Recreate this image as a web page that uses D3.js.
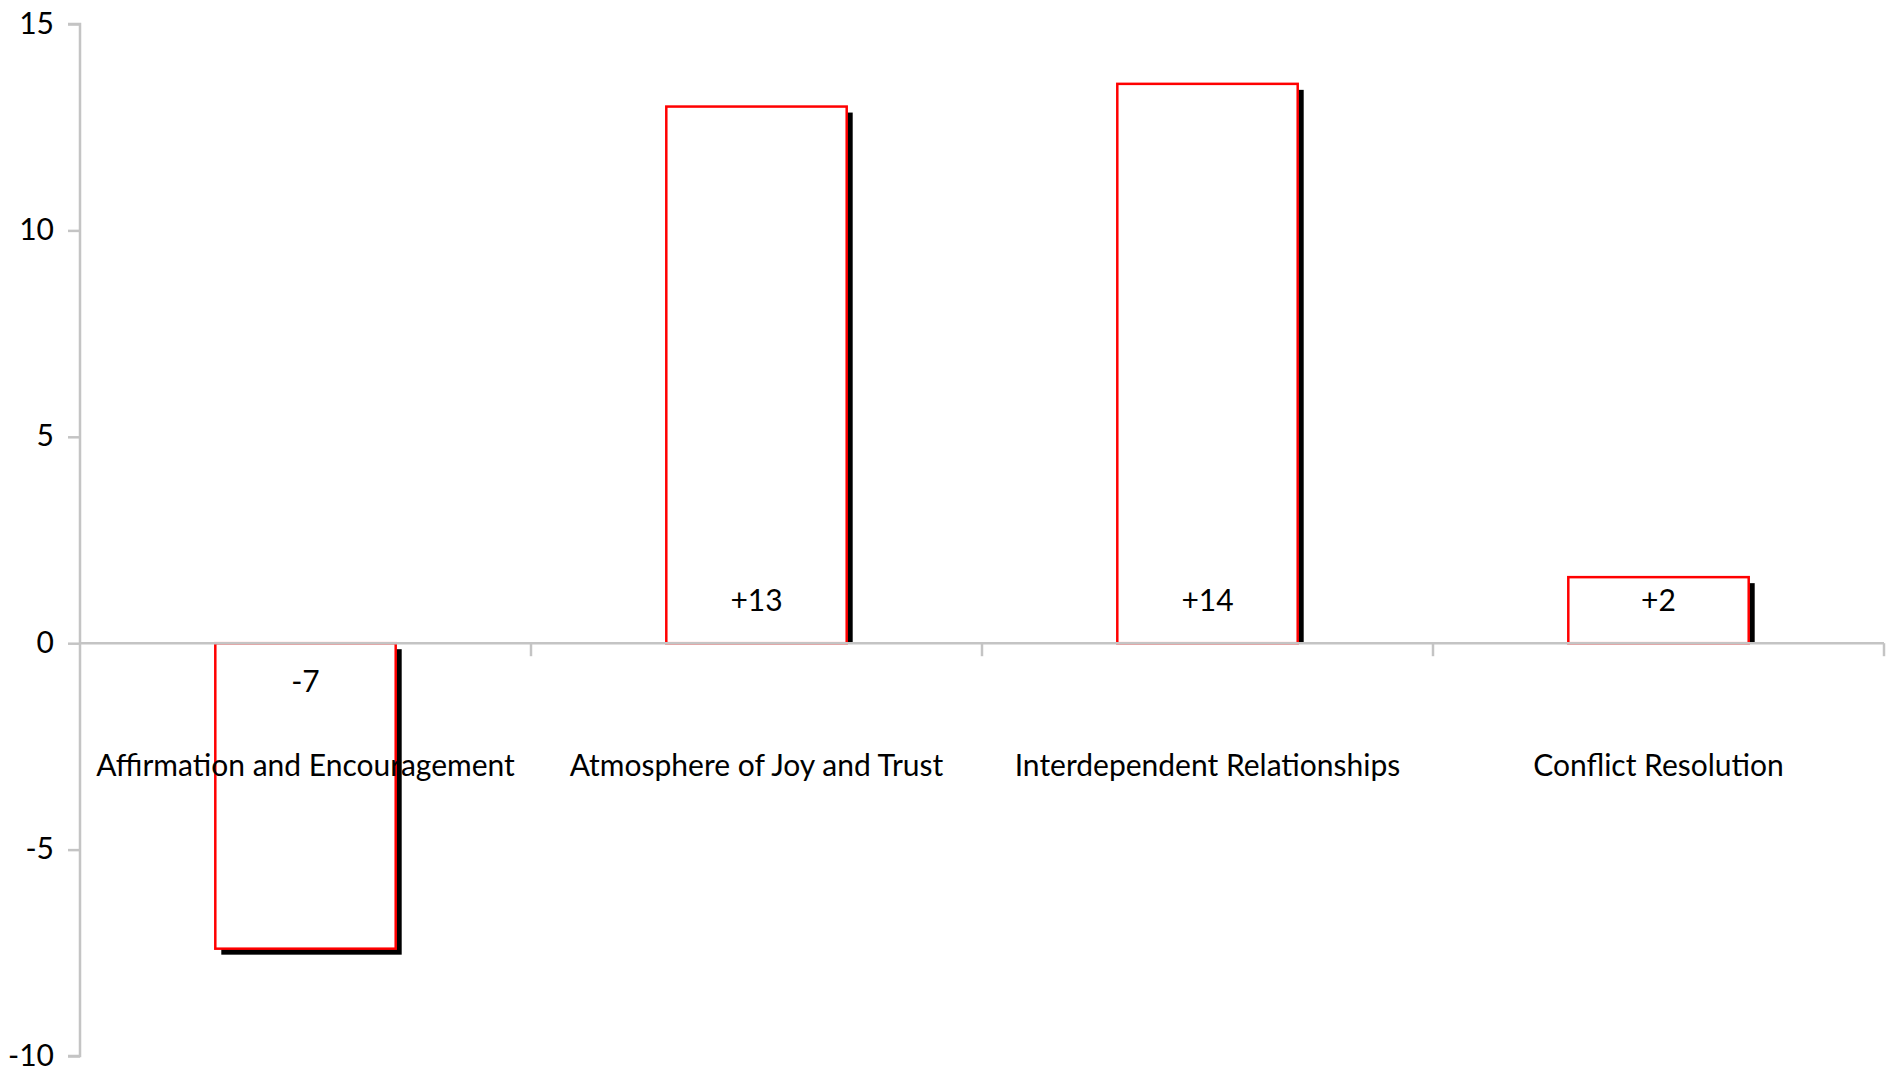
<!DOCTYPE html>
<html>
<head>
<meta charset="utf-8">
<script src="https://cdn.jsdelivr.net/npm/d3@7"></script>
<style>
  html, body { margin: 0; padding: 0; background: #fff; }
  svg { display: block; }
  text { font-family: Lato, "Noto Sans", sans-serif; fill: #000; }
</style>
</head>
<body>
<svg id="chart" width="1895" height="1069"></svg>
<script>
const categories = ["Affirmation and Encouragement", "Atmosphere of Joy and Trust", "Interdependent Relationships", "Conflict Resolution"];
const values = [-7.4, 13.0, 13.55, 1.6];
const valueLabels = ["-7", "+13", "+14", "+2"];
const yTicks = [-10, -5, 0, 5, 10, 15];

(function () {
const svg = d3.select("#chart");
const mLeft = 80, mRight = 1884, mTop = 24, mBottom = 1056;
const fontSize = 30;

const x = d3.scaleBand().domain(categories).range([mLeft, mRight]).paddingInner(0.6).paddingOuter(0.3);
const xOuter = d3.scaleBand().domain(categories).range([mLeft, mRight]);
const y = d3.scaleLinear().domain([-10, 15]).range([mBottom, mTop]);

const axisColor = "#c4c4c4";

// y axis
const yAxis = svg.append("g").attr("transform", `translate(${mLeft},0)`)
  .call(d3.axisLeft(y).tickValues(yTicks).tickSize(12).tickPadding(14).tickFormat(d => String(d)));
yAxis.selectAll("path, line").attr("stroke", axisColor).attr("stroke-width", 2.5);
yAxis.select(".domain").attr("d", `M-12,${y(15)}H0V${y(-10)}H-12`);
yAxis.selectAll("text").attr("font-size", fontSize).attr("fill", "#000").attr("dy", "0.3em")
  .style("font-family", "Lato, 'Noto Sans', sans-serif");

const shadowOff = 6;
const bars = svg.append("g");
categories.forEach((c, i) => {
  const v = values[i];
  const x0 = x(c), w = x.bandwidth();
  const y0 = Math.min(y(0), y(v)), h = Math.abs(y(v) - y(0));
  if (v >= 0) {
    bars.append("rect").attr("x", x0 + shadowOff).attr("y", y(v) + shadowOff)
      .attr("width", w).attr("height", Math.max(0, y(0) - y(v) - shadowOff)).attr("fill", "#000");
  } else {
    bars.append("rect").attr("x", x0 + shadowOff).attr("y", y(0) + shadowOff)
      .attr("width", w).attr("height", h).attr("fill", "#000");
  }
  bars.append("rect").attr("x", x0).attr("y", y0).attr("width", w).attr("height", h)
    .attr("fill", "#fff").attr("stroke", "#ff0000").attr("stroke-width", 2.5);
});

// x axis at zero
const xAxisG = svg.append("g");
xAxisG.append("line").attr("x1", mLeft).attr("x2", mRight).attr("y1", y(0)).attr("y2", y(0))
  .attr("stroke", axisColor).attr("stroke-width", 2.5);
const boundaries = categories.map(c => xOuter(c)).slice(1).concat([mRight]);
xAxisG.selectAll("line.tick").data(boundaries).enter().append("line")
  .attr("x1", d => d).attr("x2", d => d).attr("y1", y(0)).attr("y2", y(0) + 13)
  .attr("stroke", axisColor).attr("stroke-width", 2.5);

// data labels (inside base)
svg.append("g").selectAll("text").data(categories).enter().append("text")
  .attr("x", c => x(c) + x.bandwidth() / 2)
  .attr("y", (c, i) => values[i] >= 0 ? y(0) - 32 : y(0) + 49)
  .attr("text-anchor", "middle").attr("font-size", fontSize)
  .text((c, i) => valueLabels[i]);

// category labels
svg.append("g").selectAll("text").data(categories).enter().append("text")
  .attr("x", c => xOuter(c) + xOuter.bandwidth() / 2)
  .attr("y", y(0) + 133)
  .attr("text-anchor", "middle").attr("font-size", fontSize)
  .text(c => c);
})();
</script>
</body>
</html>
